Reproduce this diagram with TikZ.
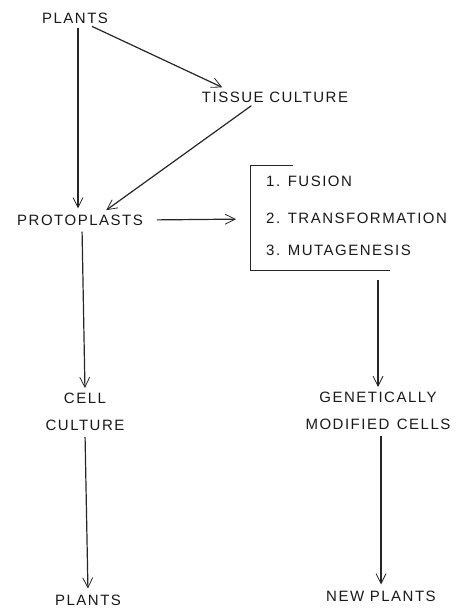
\documentclass[tikz,border=0pt]{standalone}
\usepackage{fontspec}
\setmainfont{Liberation Sans}
\usetikzlibrary{arrows.meta,positioning}
\newfontfamily\labelfont[LetterSpace=10]{Liberation Sans}
\tikzset{
  label text/.style={font=\labelfont\fontsize{15}{27}\selectfont, inner sep=2pt, text=black!90},
  flow arrow/.style={
    black!85,
    line width=1.2pt,
    -{Straight Barb[length=3.5mm,width=3.5mm,line width=0.8pt]}
  },
  bracket line/.style={black!85, line width=1pt}
}
\begin{document}
\begin{tikzpicture}[x=1pt,y=-1pt]
  \useasboundingbox (0,0) rectangle (470,611);

  % Left column.
  \node[label text] (plantsTop) at (75,18) {PLANTS};
  \node[label text] (tissue) at (275,97) {TISSUE CULTURE};
  \node[label text] (proto) at (80,220) {PROTOPLASTS};
  \node[label text, align=center] (cellcult) at (85,412) {CELL\\CULTURE};
  \node[label text] (plantsBot) at (88,600) {PLANTS};

  % Method list with its bracket.
  \node[label text, anchor=west] (fusion) at (264,181) {1. FUSION};
  \node[label text, anchor=west] (transf) at (264,218) {2. TRANSFORMATION};
  \node[label text, anchor=west] (mutag) at (264,250) {3. MUTAGENESIS};
  \coordinate (boxTop) at (293,165);
  \coordinate (boxL) at (250,219);
  \coordinate (boxB) at (378,270);
  \draw[bracket line] (boxTop) -- (250,165) -- (250,270) -- (390,270);

  % Right column.
  \node[label text, align=center] (genmod) at (378,411) {GENETICALLY\\MODIFIED\enspace CELLS};
  \node[label text] (newplants) at (381,596) {NEW PLANTS};

  % Arrows.
  \draw[flow arrow, shorten <=2pt, shorten >=4pt] ([xshift=3pt]plantsTop.south) -- ([xshift=-2pt]proto.north);
  \draw[flow arrow, shorten <=2pt, shorten >=5pt] ([xshift=-20pt]plantsTop.south east) -- ([xshift=27pt]tissue.north west);
  \draw[flow arrow, shorten <=2pt, shorten >=4pt] ([xshift=-22pt]tissue.south) -- ([xshift=23pt]proto.north);
  \draw[flow arrow, shorten <=12pt, shorten >=14pt] (proto.east) -- (boxL);
  \draw[flow arrow, shorten <=10pt, shorten >=3pt] (boxB) -- (genmod.north);
  \draw[flow arrow, shorten <=4pt, shorten >=3pt] ([xshift=2pt]proto.south) -- (cellcult.north);
  \draw[flow arrow, shorten <=4pt, shorten >=4pt] (cellcult.south) -- (plantsBot.north);
  \draw[flow arrow, shorten <=4pt, shorten >=4pt] ([xshift=3pt]genmod.south) -- (newplants.north);
\end{tikzpicture}
\end{document}
